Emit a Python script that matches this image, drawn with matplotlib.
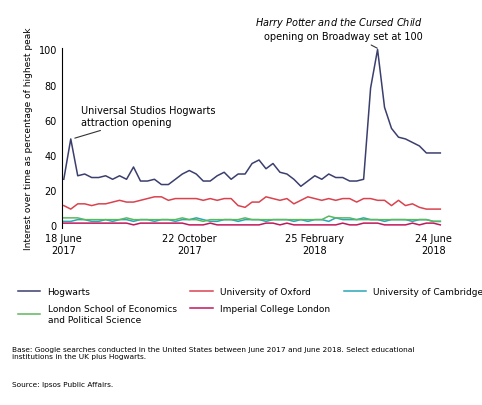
import matplotlib.pyplot as plt

weeks = list(range(55))
hogwarts = [26, 49, 28, 29, 27, 27, 28, 26, 28, 26, 33, 25, 25, 26, 23, 23, 26, 29, 31, 29,
            25, 25, 28, 30, 26, 29, 29, 35, 37, 32, 35, 30, 29, 26, 22, 25, 28, 26, 29, 27,
            27, 25, 25, 26, 78, 100, 67, 55, 50, 49, 47, 45, 41, 41, 41]
oxford = [11, 9, 12, 12, 11, 12, 12, 13, 14, 13, 13, 14, 15, 16, 16, 14, 15, 15, 15, 15,
          14, 15, 14, 15, 15, 11, 10, 13, 13, 16, 15, 14, 15, 12, 14, 16, 15, 14, 15, 14,
          15, 15, 13, 15, 15, 14, 14, 11, 14, 11, 12, 10, 9, 9, 9]
cambridge = [2, 2, 3, 3, 2, 2, 3, 2, 3, 3, 2, 3, 3, 2, 3, 3, 2, 3, 3, 4, 3, 2, 2, 3, 3,
             2, 3, 3, 3, 2, 3, 3, 3, 2, 3, 2, 3, 3, 2, 4, 3, 3, 3, 4, 3, 3, 2, 3, 3, 3,
             2, 3, 3, 2, 2]
lse = [4, 4, 4, 3, 3, 3, 3, 3, 3, 4, 3, 3, 3, 3, 3, 3, 3, 4, 3, 3, 2, 3, 3, 3, 3,
       3, 4, 3, 3, 3, 3, 3, 3, 3, 3, 3, 3, 3, 5, 4, 4, 4, 3, 3, 3, 3, 3, 3, 3, 3,
       3, 3, 3, 2, 2]
imperial = [1, 1, 1, 1, 1, 1, 1, 1, 1, 1, 0, 1, 1, 1, 1, 1, 1, 1, 0, 0, 0, 1, 0, 0, 0,
            0, 0, 0, 0, 1, 1, 0, 1, 0, 0, 0, 0, 0, 0, 0, 1, 0, 0, 1, 1, 1, 0, 0, 0, 0,
            1, 0, 1, 1, 0]
tick_weeks = [0, 18, 36, 53]
tick_labels = ["18 June\n2017", "22 October\n2017", "25 February\n2018", "24 June\n2018"]

series = [
    ("Hogwarts", hogwarts, "#3b3f6e"),
    ("University of Oxford", oxford, "#d9434f"),
    ("University of Cambridge", cambridge, "#2aa6b8"),
    ("London School of Economics\nand Political Science", lse, "#5cb85c"),
    ("Imperial College London", imperial, "#c2185b"),
]

fig = plt.figure(figsize=(4.82, 4.06), dpi=100)
ax = fig.add_axes([0.128, 0.435, 0.80, 0.445])
lines = []
for name, vals, col in series:
    ln, = ax.plot(weeks, vals, color=col, lw=1.1, label=name)
    lines.append(ln)

ax.set_xlim(-0.3, 55)
ax.set_ylim(-2, 101)
ax.set_yticks([0, 20, 40, 60, 80, 100])
ax.set_xticks(tick_weeks)
ax.set_xticklabels(tick_labels, fontsize=7)
ax.tick_params(axis="y", labelsize=7, length=0)
ax.tick_params(axis="x", length=0)
for s in ["top", "right", "bottom"]:
    ax.spines[s].set_visible(False)
ax.set_ylabel("Interest over time as percentage of highest peak", fontsize=6.5)

ax.annotate("Universal Studios Hogwarts\nattraction opening", xy=(1.2, 49), xytext=(2.5, 57),
            fontsize=7, arrowprops=dict(arrowstyle="-", color="#333333", lw=0.8))
ax.annotate("$\\it{Harry\\ Potter\\ and\\ the\\ Cursed\\ Child}$\nopening on Broadway set at 100",
            xy=(45.3, 100), xytext=(51.5, 106), fontsize=7, ha="right",
            arrowprops=dict(arrowstyle="-", color="#333333", lw=0.8), annotation_clip=False)

# column-major fill -> reorder so rows read like the original
order = [0, 3, 1, 4, 2]
fig.legend([lines[i] for i in order], [series[i][0] for i in order],
           loc="upper left", bbox_to_anchor=(0.02, 0.31), ncol=3, fontsize=6.5,
           frameon=False, handlelength=2.5, columnspacing=1.5, labelspacing=0.9)

fig.text(0.025, 0.145, "Base: Google searches conducted in the United States between June 2017 and June 2018. Select educational\ninstitutions in the UK plus Hogwarts.",
         fontsize=5.3, va="top")
fig.text(0.025, 0.06, "Source: Ipsos Public Affairs.", fontsize=5.3, va="top")

fig.savefig("out.png", dpi=100)
